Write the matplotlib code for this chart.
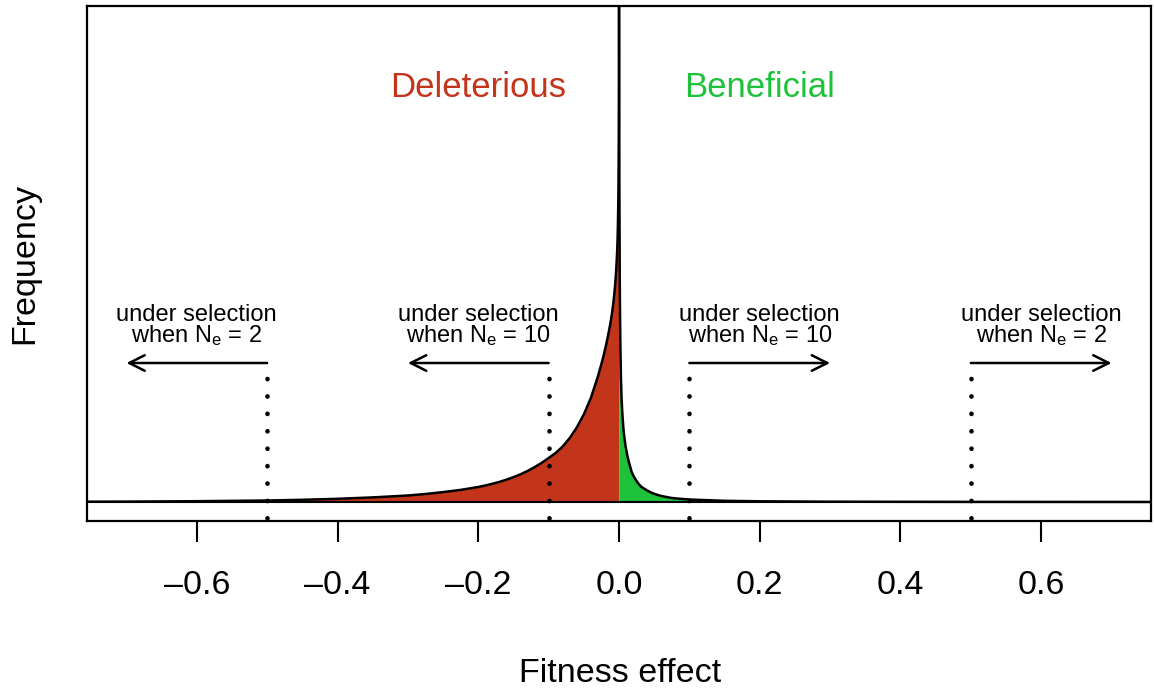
import matplotlib
matplotlib.use("Agg")
import matplotlib.pyplot as plt

plt.rcParams['font.family'] = ['Liberation Sans', 'DejaVu Sans']
plt.rcParams['mathtext.fontset'] = 'custom'
plt.rcParams['mathtext.rm'] = 'Liberation Sans'
plt.rcParams['mathtext.it'] = 'Liberation Sans'

# distribution of fitness effects, heights (arbitrary units)
del_x = [-0.76, -0.7, -0.6, -0.5, -0.45, -0.4, -0.35, -0.3, -0.275, -0.25, -0.225, -0.2,
         -0.19, -0.18, -0.17, -0.16, -0.15, -0.14, -0.13, -0.12, -0.11, -0.1, -0.09,
         -0.08, -0.07, -0.06, -0.05, -0.04, -0.033, -0.03, -0.025, -0.022, -0.019,
         -0.017, -0.014, -0.012, -0.0095, -0.008, -0.006, -0.005, -0.004, -0.003,
         -0.0025, -0.002, -0.0015, -0.001, -0.0008, -0.0005, -0.0003, -0.0001, 0.0]
del_y = [0.3, 0.4, 0.8, 1.5, 2.2, 3.2, 4.6, 6.5, 8, 9.9, 12.1, 15,
         16.5, 18.2, 20.1, 22.3, 24.8, 27.7, 31, 34.8, 39.1, 44, 49,
         55.5, 64, 74.5, 87.5, 104, 119, 125.5, 138, 146, 155,
         161.5, 172, 179.5, 191, 199, 213, 221.5, 232, 245,
         253, 263, 278, 300, 312, 340, 370, 430, 600]

ben_x = [0.0, 0.0005, 0.001, 0.0015, 0.002, 0.0028, 0.0037, 0.0047, 0.006, 0.007, 0.0095,
         0.012, 0.014, 0.018, 0.021, 0.024, 0.028, 0.032, 0.04, 0.047, 0.055, 0.06,
         0.075, 0.09, 0.1, 0.15, 0.2, 0.3, 0.5, 0.76]
ben_y = [600, 330, 230, 185, 155, 122, 103, 89, 76, 68, 55,
         46, 40, 30, 25.5, 22, 18, 15, 11.5, 9, 7, 6,
         4, 3, 2.5, 1.2, 0.7, 0.3, 0.1, 0.03]

# selection thresholds and their labels
thresholds = [-0.5, -0.1, 0.1, 0.5]
ne_labels = ['2', '10', '10', '2']
ticks = [-0.6, -0.4, -0.2, 0.0, 0.2, 0.4, 0.6]

red = '#C3351A'
green = '#1EC23A'

fig = plt.figure(figsize=(11.55, 6.88), dpi=100)
ax = fig.add_axes([87/1155, 1 - 521/688, (1151 - 87)/1155, (521 - 6)/688])
ax.set_xlim(-0.756, 0.756)
ax.set_ylim(-19, 496)

ax.fill_between(del_x, 0, del_y, color=red, lw=0)
ax.fill_between(ben_x, 0, ben_y, color=green, lw=0)
ax.plot(del_x, del_y, color='black', lw=1.8)
ax.plot(ben_x, ben_y, color='black', lw=1.8)
ax.axhline(0, color='black', lw=1.5)

for t, n in zip(thresholds, ne_labels):
    sign = 1 if t > 0 else -1
    ax.plot([t, t], [-16, 128], color='black', lw=3.3, linestyle=(0, (0.05, 3.75)),
            dash_capstyle='round')
    ax.annotate('', xy=(t + sign * 0.2, 139), xytext=(t, 139),
                arrowprops=dict(arrowstyle='->', lw=1.8, color='black',
                                mutation_scale=28, shrinkA=0, shrinkB=0))
    cx = t + sign * 0.1
    ax.text(cx, 154, 'under selection\n' + r'when N$_\mathrm{e}$ = ' + n,
            ha='center', va='bottom', fontsize=17, linespacing=0.85)

ax.text(-0.2, 405, 'Deleterious', color=red, ha='center', va='baseline', fontsize=25)
ax.text(0.2, 405, 'Beneficial', color=green, ha='center', va='baseline', fontsize=25)

ax.set_xticks(ticks)
ax.set_xticklabels(['\u2013' + f'{abs(t):.1f}' if t < 0 else f'{t:.1f}' for t in ticks])
ax.set_yticks([])
ax.tick_params(axis='x', length=15, width=1.5, pad=20, labelsize=24.5)
for s in ax.spines.values():
    s.set_linewidth(1.6)

fig.text(620/1155, 1 - 682/688, 'Fitness effect', ha='center', va='baseline', fontsize=24.5)
fig.text(25/1155, 1 - 264/688, 'Frequency', ha='center', va='center', rotation=90,
         fontsize=24.5)

fig.savefig('out.png', dpi=100)
